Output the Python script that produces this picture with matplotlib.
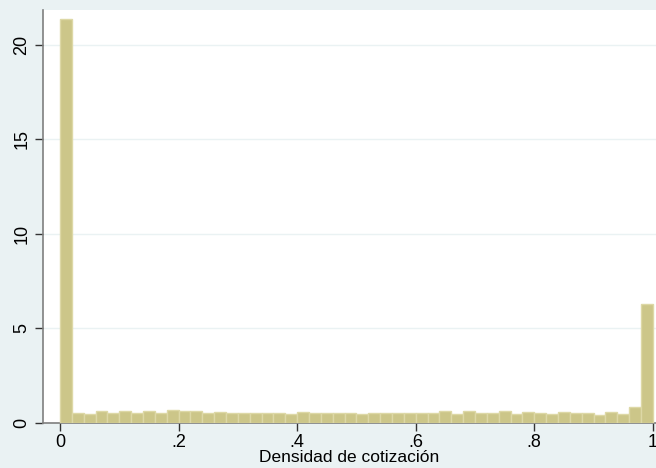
import numpy as np
import matplotlib.pyplot as plt

plt.rcParams['font.family'] = ['Liberation Sans', 'DejaVu Sans']

# histogram of contribution density, 50 bins on [0, 1]
bin_edges = np.linspace(0, 1, 51)
density = [21.4, 0.55, 0.48, 0.63, 0.55, 0.63, 0.55, 0.63, 0.55, 0.69,
           0.63, 0.63, 0.55, 0.58, 0.51, 0.51, 0.51, 0.51, 0.51, 0.48,
           0.58, 0.51, 0.55, 0.51, 0.55, 0.48, 0.55, 0.55, 0.55, 0.51,
           0.55, 0.51, 0.63, 0.48, 0.63, 0.51, 0.51, 0.63, 0.48, 0.58,
           0.55, 0.48, 0.58, 0.51, 0.51, 0.42, 0.58, 0.45, 0.85, 6.32]
xticks = [0, 0.2, 0.4, 0.6, 0.8, 1]
xticklabels = ['0', '.2', '.4', '.6', '.8', '1']
yticks = [0, 5, 10, 15, 20]

bg = '#EAF2F3'
fig = plt.figure(figsize=(6.56, 4.68), dpi=100, facecolor=bg)
ax = fig.add_axes([43 / 656, 45 / 468, 1 - 43 / 656, 413 / 468])
ax.set_facecolor('white')

ax.bar(bin_edges[:-1], density, width=np.diff(bin_edges), align='edge',
       color='#CCC689', edgecolor='#DDD8A6', linewidth=1, zorder=3)

ax.set_xlim(-0.0287, 1.0054)
ax.set_ylim(0, 21.85)
ax.set_yticks(yticks)
ax.set_yticklabels([str(v) for v in yticks], rotation=90, va='center', fontsize=13)
ax.set_xticks(xticks)
ax.set_xticklabels(xticklabels, fontsize=13)
ax.yaxis.grid(True, color=bg, linewidth=1, zorder=0)
ax.set_axisbelow(True)

for side in ['top', 'right']:
    ax.spines[side].set_visible(False)
for side in ['left', 'bottom']:
    ax.spines[side].set_color('#7F7F7F')
    ax.spines[side].set_linewidth(1.2)
ax.tick_params(axis='both', direction='out', length=6, width=1,
               color='#333333', labelcolor='black')
ax.tick_params(axis='x', pad=2)
ax.tick_params(axis='y', pad=3)

ax.set_xlabel('Densidad de cotización', fontsize=12.5, labelpad=-1)

fig.savefig('out.png', dpi=100, facecolor=bg)
